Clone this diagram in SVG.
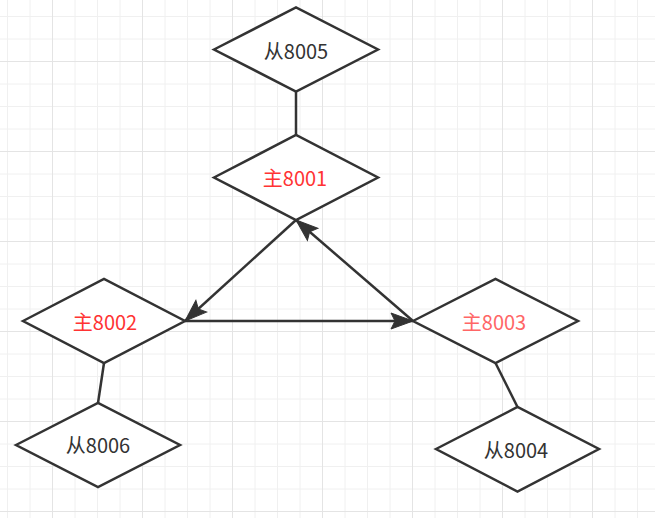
<svg xmlns="http://www.w3.org/2000/svg" width="655" height="518" viewBox="0 0 655 518">
<style>
.minor{stroke:#f0f0f0;stroke-width:1;fill:none}
.major{stroke:#e4e4e4;stroke-width:1;fill:none}
.shape{fill:#ffffff;stroke:#333333;stroke-width:2.5;stroke-linejoin:miter}
.edge{fill:none;stroke:#333333;stroke-width:2.5}
.lbl{font-family:"Noto Sans CJK SC","Noto Sans",sans-serif;font-size:20px;text-anchor:middle;fill:#333333}
.red{fill:#ff3333}
.red2{fill:#ff6666}
</style>
<defs>
<marker id="arr" viewBox="-24 -10 26 20" refX="0" refY="0" markerWidth="26" markerHeight="20" markerUnits="userSpaceOnUse" orient="auto">
<path d="M0,0 L-22,-8 L-18,0 L-22,8 Z" fill="#333333" stroke="#333333" stroke-width="1"/>
</marker>
</defs>
<rect width="655" height="518" fill="#ffffff"/>
<g id="grid">
<path class="minor" d="M7.5,0V518M30,0V518M75,0V518M97.5,0V518M120,0V518M165,0V518M187.5,0V518M210,0V518M255,0V518M277.5,0V518M300,0V518M345,0V518M367.5,0V518M390,0V518M435,0V518M457.5,0V518M480,0V518M525,0V518M547.5,0V518M570,0V518M615,0V518M637.5,0V518M0,16.5H655M0,39H655M0,84H655M0,106.5H655M0,129H655M0,174H655M0,196.5H655M0,219H655M0,264H655M0,286.5H655M0,309H655M0,354H655M0,376.5H655M0,399H655M0,444H655M0,466.5H655M0,489H655"/>
<path class="major" d="M52.5,0V518M142.5,0V518M232.5,0V518M322.5,0V518M412.5,0V518M502.5,0V518M592.5,0V518M0,61.5H655M0,151.5H655M0,241.5H655M0,331.5H655M0,421.5H655M0,511.5H655"/>
</g>
<g id="connectors">
<path class="edge" d="M296,91.5L296,135"/>
<path class="edge" d="M104,363L98,403"/>
<path class="edge" d="M495.5,363L517.5,407"/>
<path class="edge" d="M296,220L185,321" marker-end="url(#arr)"/>
<path class="edge" d="M185,321L413,321" marker-end="url(#arr)"/>
<path class="edge" d="M413,321L296,220" marker-end="url(#arr)"/>
</g>
<g id="n8005">
<polygon class="shape" points="214,49.5 296,7.5 378,49.5 296,91.5"/>
<text class="lbl" x="296" y="59">从8005</text>
</g>
<g id="n8001">
<polygon class="shape" points="214,177.5 296,135 378,177.5 296,220"/>
<text class="lbl red" x="295" y="186">主8001</text>
</g>
<g id="n8002">
<polygon class="shape" points="23,321 104,279 185,321 104,363"/>
<text class="lbl red" x="105" y="330">主8002</text>
</g>
<g id="n8003">
<polygon class="shape" points="413,321 495.5,279 578,321 495.5,363"/>
<text class="lbl red2" x="494" y="330">主8003</text>
</g>
<g id="n8006">
<polygon class="shape" points="16,445 98,403 180,445 98,487"/>
<text class="lbl" x="98" y="453">从8006</text>
</g>
<g id="n8004">
<polygon class="shape" points="436,449 517.5,407 599,449 517.5,491.5"/>
<text class="lbl" x="516" y="458">从8004</text>
</g>
</svg>
